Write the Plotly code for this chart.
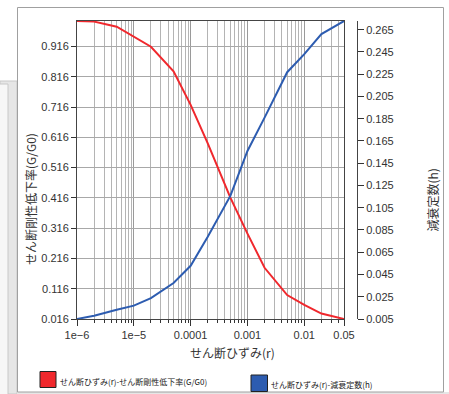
import math
import plotly.graph_objects as go

# Shear strain levels (log scale)
strain = [1e-6, 2e-6, 5e-6, 1e-5, 2e-5, 5e-5, 1e-4, 2e-4, 5e-4,
          1e-3, 2e-3, 5e-3, 1e-2, 2e-2, 5e-2]
# Shear modulus reduction ratio G/G0
g_ratio = [1.000, 0.998, 0.981, 0.949, 0.915, 0.834, 0.723, 0.596, 0.417,
           0.298, 0.185, 0.095, 0.063, 0.034, 0.016]
# Damping ratio h
damping = [0.005, 0.008, 0.0133, 0.017, 0.0238, 0.0373, 0.0528, 0.079, 0.1156,
           0.156, 0.186, 0.2268, 0.243, 0.261, 0.2728]

x_tick_vals = [1e-6, 1e-5, 1e-4, 1e-3, 1e-2, 5e-2]
x_tick_text = ["1e\u22126", "1e\u22125", "0.0001", "0.001", "0.01", "0.05"]
x_minor_vals = [m * 10 ** e for e in range(-6, -1) for m in range(2, 10)
                if m * 10 ** e < 0.05]
x_minor_vals += [2e-2, 3e-2, 4e-2]

y1_tick_vals = [0.016 + 0.1 * k for k in range(10)]
y1_tick_text = [f"{v:.3f}" for v in y1_tick_vals]
y2_tick_vals = [0.005 + 0.02 * k for k in range(14)]
y2_tick_text = [f"{v:.3f}" for v in y2_tick_vals]

RED = "#f0282d"
BLUE = "#2d5cb0"
W, H = 449, 394
ML, MR, MT, MB = 77, 92, 21, 75
PW, PH = W - ML - MR, H - MT - MB


def px(x):
    return (x - ML) / PW


def py(y):
    return (H - MB - y) / PH


fig = go.Figure()
fig.add_trace(go.Scatter(x=strain, y=g_ratio, mode="lines",
                         line=dict(color=RED, width=2), yaxis="y",
                         name="せん断ひずみ(r)-せん断剛性低下率(G/G0)"))
fig.add_trace(go.Scatter(x=strain, y=damping, mode="lines",
                         line=dict(color=BLUE, width=2), yaxis="y2",
                         name="せん断ひずみ(r)-減衰定数(h)"))

tick_font = dict(family="Liberation Sans, Arial, sans-serif", size=11, color="#333")
jp_font = "Noto Sans CJK JP, sans-serif"

fig.update_layout(
    width=W, height=H, autosize=False,
    margin=dict(l=ML, r=MR, t=MT, b=MB, pad=0),
    paper_bgcolor="white", plot_bgcolor="white",
    showlegend=False,
    xaxis=dict(
        type="log", domain=[0, (344 - ML) / PW],
        range=[-6, math.log10(0.05)],
        tickmode="array", tickvals=x_tick_vals, ticktext=x_tick_text,
        ticks="outside", ticklen=6, tickcolor="#333", tickfont=tick_font,
        showgrid=True, gridcolor="#9a9a9a", gridwidth=1,
        showline=True, linecolor="#444", mirror=True, zeroline=False,
        minor=dict(tickmode="array", tickvals=x_minor_vals, ticks="outside",
                   ticklen=3, tickcolor="#333", showgrid=True,
                   gridcolor="#b4b4b4", gridwidth=1),
    ),
    yaxis=dict(
        range=[0.016, 1.0],
        tickmode="array", tickvals=y1_tick_vals, ticktext=y1_tick_text,
        ticks="outside", ticklen=5, tickcolor="#333", tickfont=tick_font,
        showgrid=True, gridcolor="#a8a8a8", gridwidth=1,
        showline=True, linecolor="#444", mirror=True, zeroline=False,
    ),
    yaxis2=dict(
        overlaying="y", side="right", anchor="free", position=1.0,
        range=[0.005, 0.2728],
        tickmode="array", tickvals=y2_tick_vals, ticktext=y2_tick_text,
        ticks="outside", ticklen=6, tickcolor="#333", tickfont=tick_font,
        showgrid=False, showline=True, linecolor="#444", zeroline=False,
    ),
)

shapes = [
    # left side panel
    dict(type="rect", xref="paper", yref="paper",
         x0=px(0), x1=px(17), y0=py(394), y1=py(81),
         fillcolor="#e6e6e6", line=dict(color="#c8c8c8", width=1), layer="below"),
    dict(type="rect", xref="paper", yref="paper",
         x0=px(-1), x1=px(8), y0=py(395), y1=py(84),
         fillcolor="#f7f7f7", line=dict(color="#c8c8c8", width=1), layer="below"),
    # bottom band
    dict(type="rect", xref="paper", yref="paper",
         x0=px(17), x1=px(449), y0=py(394), y1=py(392),
         fillcolor="#e6e6e6", line=dict(width=0), layer="below"),
    # chart frame
    dict(type="rect", xref="paper", yref="paper",
         x0=px(17.5), x1=px(443.5), y0=py(392), y1=py(7.5),
         line=dict(color="#a0a0a0", width=1), layer="below"),
    # legend swatches
    dict(type="rect", xref="paper", yref="paper",
         x0=px(40), x1=px(56), y0=py(387.5), y1=py(371.5),
         fillcolor=RED, line=dict(color="#222", width=1)),
    dict(type="rect", xref="paper", yref="paper",
         x0=px(251), x1=px(267.5), y0=py(391.5), y1=py(375),
         fillcolor=BLUE, line=dict(color="#222", width=1)),
]

annotations = [
    dict(text="せん断ひずみ(r)", x=px(232), y=py(352.5), xref="paper", yref="paper",
         showarrow=False, font=dict(family=jp_font, size=12, color="#333"),
         xanchor="center", yanchor="middle"),
    dict(text="せん断剛性低下率(G/G0)", x=px(30), y=py(199), xref="paper", yref="paper",
         showarrow=False, textangle=-90, font=dict(family=jp_font, size=12, color="#333"),
         xanchor="center", yanchor="middle"),
    dict(text="減衰定数(h)", x=px(431.5), y=py(200), xref="paper", yref="paper",
         showarrow=False, textangle=-90, font=dict(family=jp_font, size=12, color="#333"),
         xanchor="center", yanchor="middle"),
    dict(text="せん断ひずみ(r)-せん断剛性低下率(G/G0)", x=px(57.5), y=py(381.5),
         xref="paper", yref="paper", showarrow=False,
         font=dict(family=jp_font, size=8, color="#222"),
         xanchor="left", yanchor="middle"),
    dict(text="せん断ひずみ(r)-減衰定数(h)", x=px(269), y=py(384),
         xref="paper", yref="paper", showarrow=False,
         font=dict(family=jp_font, size=8, color="#222"),
         xanchor="left", yanchor="middle"),
]

fig.update_layout(shapes=shapes, annotations=annotations)
fig.write_html("out.html")
